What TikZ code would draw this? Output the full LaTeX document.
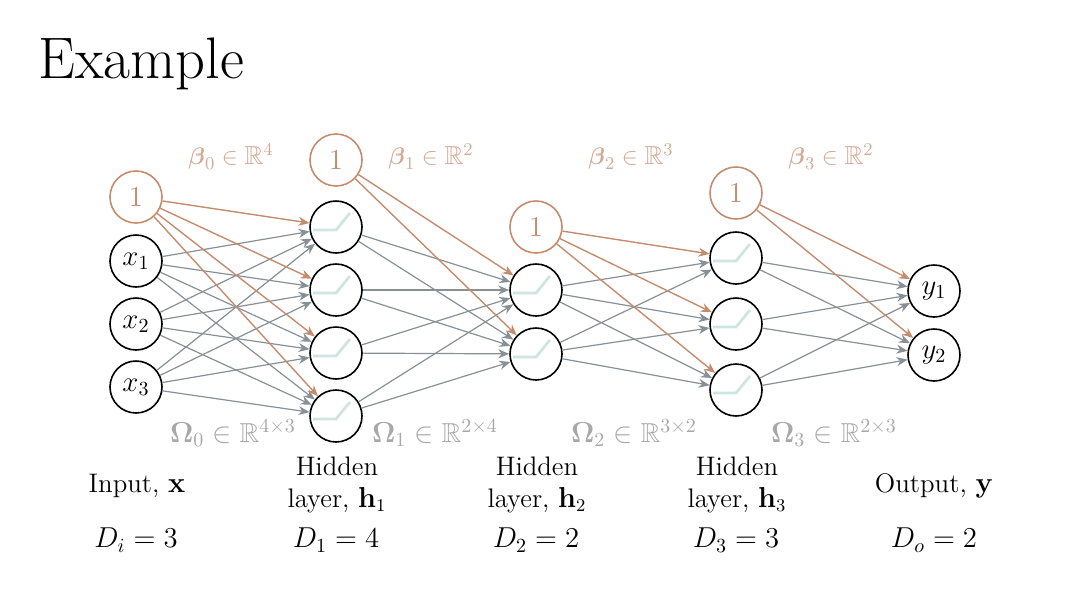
\documentclass[tikz,border=0pt]{standalone}
\usepackage{amsmath,amssymb}
\usetikzlibrary{arrows.meta}

\definecolor{biasorange}{RGB}{196,140,110}
\definecolor{biastext}{RGB}{212,168,148}
\definecolor{weightgray}{RGB}{136,144,150}
\definecolor{omegagray}{RGB}{168,168,168}
\definecolor{relucol}{RGB}{208,228,224}

\tikzset{
  unit/.style={circle, draw=black, line width=0.8pt, minimum size=26pt, inner sep=0pt,
    font=\fontsize{14}{16}\selectfont},
  biasunit/.style={unit, draw=biasorange, text=biasorange},
  wline/.style={draw=weightgray, line width=0.6pt, -{Stealth[length=5.5pt, width=4.5pt]}},
  bline/.style={draw=biasorange, line width=0.7pt, -{Stealth[length=5.5pt, width=4.5pt]}},
  relu/.style={draw=relucol, line width=1.4pt},
  lbl/.style={font=\fontsize{13.4}{16}\selectfont, align=center},
  dimlbl/.style={font=\fontsize{14.5}{16}\selectfont},
  betalbl/.style={font=\fontsize{13}{16}\selectfont, text=biastext},
  omegalbl/.style={font=\fontsize{13.7}{16}\selectfont, text=omegagray},
}

\begin{document}
\begin{tikzpicture}[x=0.5pt, y=-0.5pt]
    \useasboundingbox (0,0) rectangle (1070,600);

    \node [anchor=base west, font=\fontsize{29.3}{32}\selectfont, inner sep=0pt] (title) at (38,78) {Example};

    % units
    \node [biasunit] (b0) at (136,197) {$1$};
    \foreach \i/\yy in {1/261, 2/324, 3/387}
      \node [unit] (x\i) at (136,\yy) {$x_\i$};

    \node [biasunit] (b1) at (336,160) {$1$};
    \foreach \i/\yy in {1/227, 2/290, 3/353, 4/416}
      \node [unit] (ha\i) at (336,\yy) {};

    \node [biasunit] (b2) at (536,227) {$1$};
    \foreach \i/\yy in {1/290, 2/354}
      \node [unit] (hb\i) at (536,\yy) {};

    \node [biasunit] (b3) at (736,193) {$1$};
    \foreach \i/\yy in {1/258, 2/324, 3/390}
      \node [unit] (hc\i) at (736,\yy) {};

    \foreach \i/\yy in {1/291, 2/355}
      \node [unit] (y\i) at (934,\yy) {$y_\i$};

    % relu icons
    \foreach \n in {ha1,ha2,ha3,ha4,hb1,hb2,hc1,hc2,hc3}
      \draw [relu] ([shift={(-23,3)}]\n.center) -- ++(23,0) -- ++(14,-17);

    % weights
    \foreach \s in {1,2,3}
      \foreach \t in {1,2,3,4}
        \draw [wline] (x\s) -- (ha\t);
    \foreach \s in {1,2,3,4}
      \foreach \t in {1,2}
        \draw [wline] (ha\s) -- (hb\t);
    \foreach \s in {1,2}
      \foreach \t in {1,2,3}
        \draw [wline] (hb\s) -- (hc\t);
    \foreach \s in {1,2,3}
      \foreach \t in {1,2}
        \draw [wline] (hc\s) -- (y\t);

    % biases
    \foreach \t in {1,2,3,4}
      \draw [bline] (b0) -- (ha\t);
    \foreach \t in {1,2}
      \draw [bline] (b1) -- (hb\t);
    \foreach \t in {1,2,3}
      \draw [bline] (b2) -- (hc\t);
    \foreach \t in {1,2}
      \draw [bline] (b3) -- (y\t);

    % parameter labels
    \node [betalbl] (beta0) at (231,157) {$\boldsymbol{\beta}_0\in\mathbb{R}^4$};
    \node [betalbl] (beta1) at (431,157) {$\boldsymbol{\beta}_1\in\mathbb{R}^2$};
    \node [betalbl] (beta2) at (631,157) {$\boldsymbol{\beta}_2\in\mathbb{R}^3$};
    \node [betalbl] (beta3) at (831,157) {$\boldsymbol{\beta}_3\in\mathbb{R}^2$};

    \node [omegalbl] (omega0) at (233,433) {$\boldsymbol{\Omega}_0\in\mathbb{R}^{4\times 3}$};
    \node [omegalbl] (omega1) at (435,433) {$\boldsymbol{\Omega}_1\in\mathbb{R}^{2\times 4}$};
    \node [omegalbl] (omega2) at (634,433) {$\boldsymbol{\Omega}_2\in\mathbb{R}^{3\times 2}$};
    \node [omegalbl] (omega3) at (834,433) {$\boldsymbol{\Omega}_3\in\mathbb{R}^{2\times 3}$};

    % layer labels
    \node [lbl] (lin)  at (137,486) {Input, $\mathbf{x}$};
    \node [lbl] (lha)  at (337,485) {Hidden\\layer, $\mathbf{h}_1$};
    \node [lbl] (lhb)  at (537,485) {Hidden\\layer, $\mathbf{h}_2$};
    \node [lbl] (lhc)  at (737,485) {Hidden\\layer, $\mathbf{h}_3$};
    \node [lbl] (lout) at (934,486) {Output, $\mathbf{y}$};

    \node [dimlbl] (din)  at (136,540) {$D_i=3$};
    \node [dimlbl] (dha)  at (336,540) {$D_1=4$};
    \node [dimlbl] (dhb)  at (536,540) {$D_2=2$};
    \node [dimlbl] (dhc)  at (736,540) {$D_3=3$};
    \node [dimlbl] (dout) at (934,540) {$D_o=2$};
\end{tikzpicture}
\end{document}
